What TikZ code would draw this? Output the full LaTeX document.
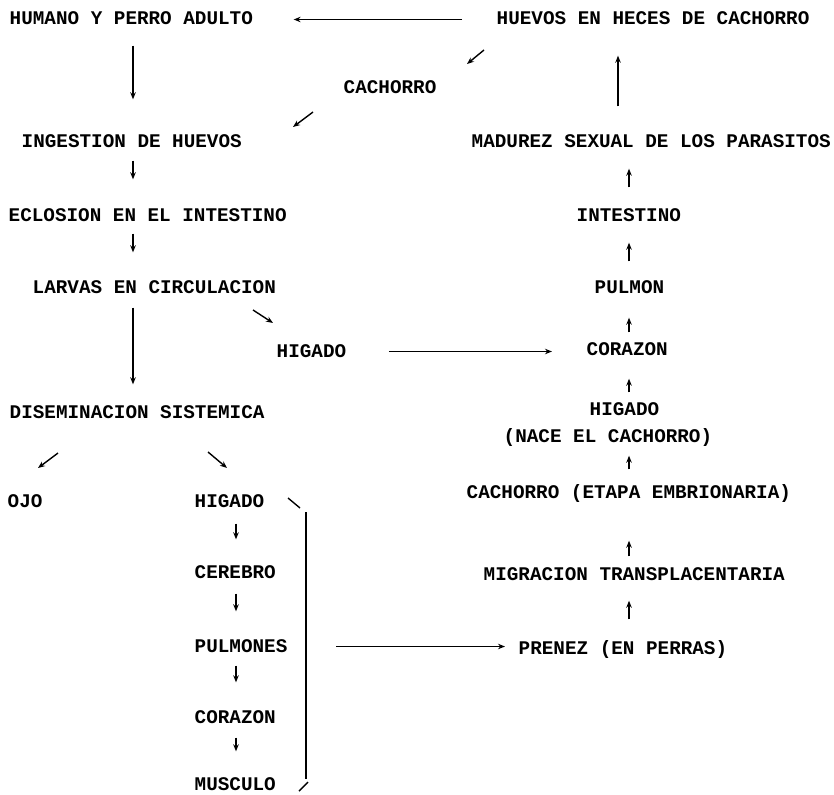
\documentclass[tikz,border=0pt]{standalone}
\usepackage{fontspec}
\newfontfamily\mfont{Liberation Mono}
\usetikzlibrary{arrows.meta}
\tikzset{every picture/.style={line width=1.4pt}}
\tikzset{
  lbl/.style={anchor=base west, inner sep=0pt, text height=11pt, text depth=0pt,
    font=\fontsize{19.3}{22}\selectfont\mfont\bfseries},
  arr/.style={-{Stealth[length=7pt,width=5.5pt]}},
}

\begin{document}
\begin{tikzpicture}[x=1pt,y=1pt,yscale=-1,xscale=1]
\useasboundingbox (0,0) rectangle (834,794);

% columns of the short arrows
\coordinate (cL) at (133,0);
\coordinate (cM) at (236,0);
\coordinate (cR) at (629,0);
\coordinate (cU) at (618,0);

% Text Node
\draw (9,25) node [lbl] (humano) {HUMANO Y PERRO ADULTO};
% Text Node
\draw (496,25) node [lbl] (huevos) {HUEVOS EN HECES DE CACHORRO};
% Text Node
\draw (343,94) node [lbl] (cachorro) {CACHORRO};
% Text Node
\draw (21,148) node [lbl] (ingestion) {INGESTION DE HUEVOS};
% Text Node
\draw (8,222) node [lbl] (eclosion) {ECLOSION EN EL INTESTINO};
% Text Node
\draw (32,293) node [lbl] (larvas) {LARVAS EN CIRCULACION};
% Text Node
\draw (276,357) node [lbl] (higadoA) {HIGADO};
% Text Node
\draw (9,418) node [lbl] (disem) {DISEMINACION SISTEMICA};
% Text Node
\draw (7,507) node [lbl] (ojo) {OJO};
% Text Node
\draw (194,507) node [lbl] (higadoC) {HIGADO};
% Text Node
\draw (194,578) node [lbl] (cerebro) {CEREBRO};
% Text Node
\draw (194,652) node [lbl] (pulmones) {PULMONES};
% Text Node
\draw (194,723) node [lbl] (corazonB) {CORAZON};
% Text Node
\draw (194,790) node [lbl] (musculo) {MUSCULO};
% Text Node
\draw (471,148) node [lbl] (madurez) {MADUREZ SEXUAL DE LOS PARASITOS};
% Text Node
\draw (576,222) node [lbl] (intestino) {INTESTINO};
% Text Node
\draw (594,293) node [lbl] (pulmon) {PULMON};
% Text Node
\draw (586,355) node [lbl] (corazon) {CORAZON};
% Text Node
\draw (589,415) node [lbl] (higadoB) {HIGADO};
% Text Node
\draw (503,442) node [lbl] (nace) {(NACE EL CACHORRO)};
% Text Node
\draw (466,498) node [lbl] (etapa) {CACHORRO (ETAPA EMBRIONARIA)};
% Text Node
\draw (483,580) node [lbl] (migracion) {MIGRACION TRANSPLACENTARIA};
% Text Node
\draw (518,654) node [lbl] (prenez) {PRENEZ (EN PERRAS)};

%Straight Lines
\draw [arr, shorten <=34pt, shorten >=40pt] (huevos.west) -- (humano.east |- huevos.west);
\draw [arr, shorten <=30pt, shorten >=30pt] (madurez.north -| cU) -- (huevos.south -| cU);
\draw [arr, shorten <=20pt, shorten >=37pt] (humano.south -| cL) -- (ingestion.north -| cL);
\draw [arr, shorten <=12pt, shorten >=31pt] (ingestion.south -| cL) -- (eclosion.north -| cL);
\draw [arr, shorten <=11pt, shorten >=29pt] (eclosion.south -| cL) -- (larvas.north -| cL);
\draw [arr, shorten <=14pt, shorten >=22pt] (larvas.south -| cL) -- (disem.north -| cL);
\draw [arr, shorten <=42pt, shorten >=34pt] (higadoA.east) -- (corazon.west |- higadoA.east);
\draw [arr, shorten <=48pt, shorten >=13pt] (pulmones.east) -- (prenez.west |- pulmones.east);

% left branch, downwards
\draw [arr, shorten <=16pt, shorten >=27pt] (higadoC.south -| cM) -- (cerebro.north -| cM);
\draw [arr, shorten <=15pt, shorten >=29pt] (cerebro.south -| cM) -- (pulmones.north -| cM);
\draw [arr, shorten <=13pt, shorten >=29pt] (pulmones.south -| cM) -- (corazonB.north -| cM);
\draw [arr, shorten <=14pt, shorten >=27pt] (corazonB.south -| cM) -- (musculo.north -| cM);

% right branch, upwards
\draw [arr, shorten <=23pt, shorten >=20pt] (intestino.north -| cR) -- (madurez.south -| cR);
\draw [arr, shorten <=20pt, shorten >=20pt] (pulmon.north -| cR) -- (intestino.south -| cR);
\draw [arr, shorten <=11pt, shorten >=24pt] (corazon.north -| cR) -- (pulmon.south -| cR);
\draw [arr, shorten <=11pt, shorten >=23pt] (higadoB.north -| cR) -- (corazon.south -| cR);
\draw [arr, shorten <=17pt, shorten >=13pt] (etapa.north -| cR) -- (nace.south -| cR);
\draw [arr, shorten <=12pt, shorten >=42pt] (migracion.north -| cR) -- (etapa.south -| cR);
\draw [arr, shorten <=23pt, shorten >=20pt] (prenez.north -| cR) -- (migracion.south -| cR);

% small slanted arrows
\coordinate (s1a) at (484,50);  \coordinate (s1b) at (467,64);
\coordinate (s2a) at (313,112); \coordinate (s2b) at (293,127);
\coordinate (s3a) at (253,310); \coordinate (s3b) at (273,323);
\coordinate (s4a) at (58,453);  \coordinate (s4b) at (38,468);
\coordinate (s5a) at (208,452); \coordinate (s5b) at (227,468);
\draw [arr] (s1a) -- (s1b);
\draw [arr] (s2a) -- (s2b);
\draw [arr] (s3a) -- (s3b);
\draw [arr] (s4a) -- (s4b);
\draw [arr] (s5a) -- (s5b);

%Shape: bracket
\draw (288,498) -- (300,508);
\draw (306,512) -- (306,779);
\draw (299,791) -- (308,782);

\end{tikzpicture}
\end{document}
